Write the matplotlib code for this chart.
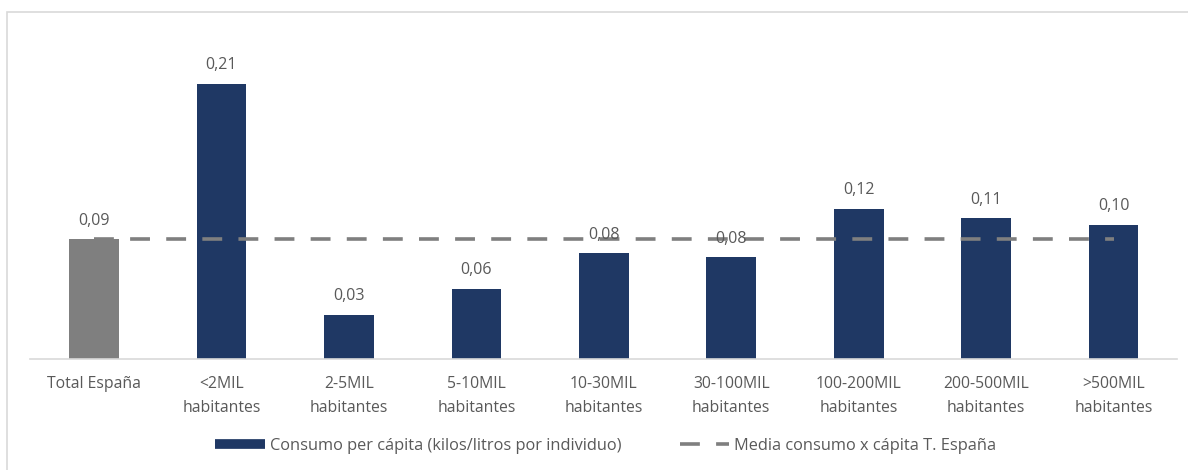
import matplotlib.pyplot as plt
from matplotlib.lines import Line2D
from matplotlib.patches import Rectangle

# ---------------------------
# DATA
# ---------------------------
categories = [
    "Total España",
    "<2MIL\nhabitantes",
    "2-5MIL\nhabitantes",
    "5-10MIL\nhabitantes",
    "10-30MIL\nhabitantes",
    "30-100MIL\nhabitantes",
    "100-200MIL\nhabitantes",
    "200-500MIL\nhabitantes",
    ">500MIL\nhabitantes",
]
consumo = [0.092, 0.211, 0.034, 0.054, 0.081, 0.078, 0.115, 0.108, 0.103]
value_labels = ["0,09", "0,21", "0,03", "0,06", "0,08", "0,08", "0,12", "0,11", "0,10"]
media_espana = 0.092

NAVY = "#1f3864"
GRAY_BAR = "#7f7f7f"
TEXT = "#595959"

plt.rcParams["font.family"] = ["Open Sans", "DejaVu Sans"]

fig = plt.figure(figsize=(11.88, 4.70), dpi=100)
ax = fig.add_axes([0.0255, 0.236, 0.9655, 0.70])

x = list(range(len(categories)))
colors = [GRAY_BAR] + [NAVY] * (len(categories) - 1)
ax.bar(x, consumo, width=0.39, color=colors, zorder=2)

# dashed average line
ax.plot([x[0], x[-1]], [media_espana, media_espana], color=GRAY_BAR,
        lw=2.6, dashes=(5.5, 4.5), zorder=3)

# value labels
for xi, v, lab in zip(x, consumo, value_labels):
    ax.text(xi, v + 0.008, lab, ha="center", va="bottom",
            fontsize=11.5, color=TEXT)

ax.set_xlim(-0.5, len(categories) - 0.5)
ax.set_ylim(0, 0.252)
ax.set_yticks([])
ax.set_xticks(x)
ax.set_xticklabels(categories, fontsize=11.3, color=TEXT, linespacing=1.7)
ax.tick_params(axis="x", length=0, pad=12)
for s in ["top", "right", "left"]:
    ax.spines[s].set_visible(False)
ax.spines["bottom"].set_color("#d9d9d9")
ax.spines["bottom"].set_linewidth(1.2)

# legend
handles = [
    Line2D([0], [0], color=NAVY, lw=7, solid_capstyle="butt"),
    Line2D([0], [0], color=GRAY_BAR, lw=2.6, dashes=(5.5, 4.5)),
]
labels = ["Consumo per cápita (kilos/litros por individuo)",
          "Media consumo x cápita T. España"]
fig.legend(handles, labels, loc="center", bbox_to_anchor=(0.51, 0.052),
           ncol=2, frameon=False, fontsize=11.8, handlelength=3.0,
           handletextpad=0.3, columnspacing=3.6, labelcolor=TEXT)

# chart frame (top and left edges visible)
fig.patches.append(Rectangle((7 / 1188, -0.05), 1.1, 1 - 12 / 470 + 0.05,
                             transform=fig.transFigure, fill=False,
                             edgecolor="#d9d9d9", lw=1.2))

fig.savefig("out.png", dpi=100)
plt.close(fig)
